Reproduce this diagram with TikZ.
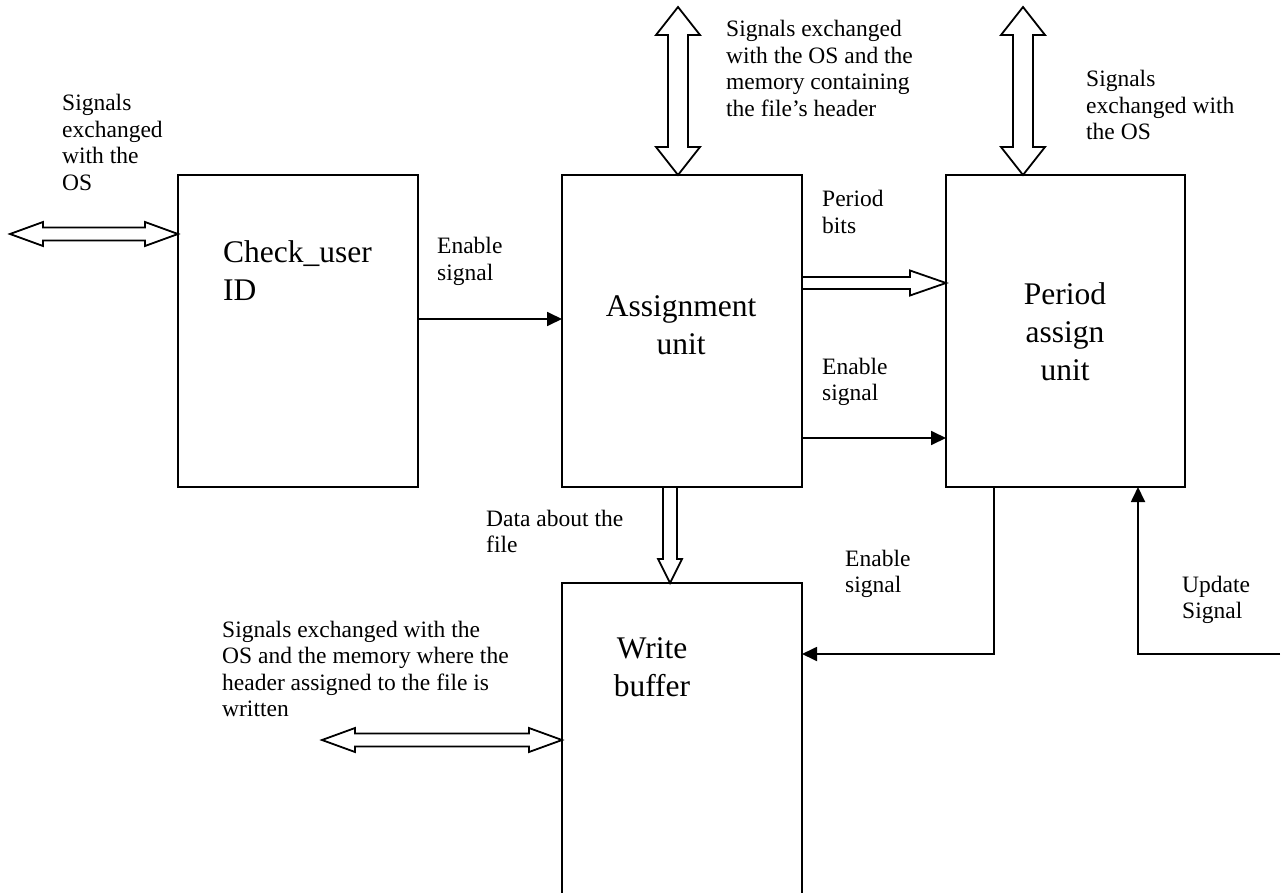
\documentclass[tikz,border=0pt]{standalone}
\usepackage{fontspec}
\setmainfont{Liberation Serif}
\usetikzlibrary{arrows.meta,calc}

% stacked lines whose baseline is the first line
\newcommand\lftlines[1]{\begin{tabular}[t]{@{}l@{}}#1\end{tabular}}
\newcommand\ctrlines[1]{\begin{tabular}[t]{@{}c@{}}#1\end{tabular}}

\begin{document}
\begin{tikzpicture}[x=1pt,y=-1pt,
  box/.style={draw, line width=1.8pt, inner sep=0pt, outer sep=0pt},
  note/.style={anchor=base west, inner sep=0pt, font=\fontsize{23.5}{26.5}\selectfont},
  title/.style={anchor=base, inner sep=0pt, font=\fontsize{31.5}{38}\selectfont},
  arr/.style={-{Triangle[length=15pt,width=14pt]}, line width=1.8pt},
  bus/.style={draw, fill=white, line width=1.8pt, line join=miter},
  % hollow block arrow, one head: shaft half width / head half width / head length
  fatone/.style args={#1/#2/#3}{
    to path={let \p1=(\tikztostart), \p2=(\tikztotarget),
      \n1={atan2(\y2-\y1,\x2-\x1)}, \n2={veclen(\x2-\x1,\y2-\y1)} in
      {[shift={(\p1)}, rotate=\n1]
        (0pt,#1pt) -- ({\n2-#3pt},#1pt) -- ({\n2-#3pt},#2pt) -- ({\n2+0pt},0pt)
        -- ({\n2-#3pt},-#2pt) -- ({\n2-#3pt},-#1pt) -- (0pt,-#1pt) -- cycle}}},
  % hollow block arrow, heads at both ends
  fattwo/.style args={#1/#2/#3}{
    to path={let \p1=(\tikztostart), \p2=(\tikztotarget),
      \n1={atan2(\y2-\y1,\x2-\x1)}, \n2={veclen(\x2-\x1,\y2-\y1)} in
      {[shift={(\p1)}, rotate=\n1]
        (0pt,0pt) -- (#3pt,#2pt) -- (#3pt,#1pt) -- ({\n2-#3pt},#1pt) -- ({\n2-#3pt},#2pt)
        -- ({\n2+0pt},0pt) -- ({\n2-#3pt},-#2pt) -- ({\n2-#3pt},-#1pt) -- (#3pt,-#1pt)
        -- (#3pt,-#2pt) -- cycle}}},
]
\useasboundingbox (0,0) rectangle (1287,893);
\clip (0,0) rectangle (1287,893);

% functional blocks
\node[box, minimum width=240pt, minimum height=312pt] (check)  at (298,331) {};
\node[box, minimum width=240pt, minimum height=312pt] (assign) at (682,331) {};
\node[box, minimum width=239pt, minimum height=312pt] (period) at (1065.5,331) {};
\node[box, minimum width=240pt, minimum height=317pt] (write)  at (682,741.5) {};

% block titles
\node[anchor=base west, inner sep=0pt, font=\fontsize{31.5}{37}\selectfont] (tcheck) at (223,263) {\lftlines{Check\_user\\ID}};
\node[title] (tassign) at (681,316) {\ctrlines{Assignment\\unit}};
\node[title] (tperiod) at (1065,304) {\ctrlines{Period\\assign\\unit}};
\node[title] (twrite)  at (652,658) {\ctrlines{Write\\buffer}};

% connection points
\coordinate (osl) at (10,234);
\coordinate (osm) at (678,7);
\coordinate (osr) at (1023,7);
\coordinate (osw) at (322,740);
\coordinate (pb)  at (802,283);
\coordinate (e1)  at (418,319);
\coordinate (e2)  at (802,438);
\coordinate (dn)  at (670,487);
\coordinate (p3)  at (994,487);
\coordinate (w3)  at (802,654);
\coordinate (u0)  at (1280,654);
\coordinate (u1)  at (1138,487);

% buses
\draw[bus] (osl) to[fattwo=6.5/12/33] (osl -| check.west);
\draw[bus] (osm) to[fattwo=10/22/28] (osm |- assign.north);
\draw[bus] (osr) to[fattwo=10/22/28] (osr |- period.north);
\draw[bus] (osw) to[fattwo=6.5/12/33] (osw -| write.west);
\draw[bus] (pb) to[fatone=6/12.5/36] (pb -| period.west);
\draw[bus] (dn) to[fatone=7/12/24] (dn |- write.north);

% control lines
\draw[arr] (e1) -- (e1 -| assign.west);
\draw[arr] (e2) -- (e2 -| period.west);
\draw[arr] (p3) |- (w3);
\draw[arr] (u0) -| (u1);

% labels
\node[note] (lbosl) at (62,111)  {\lftlines{Signals\\exchanged\\with the\\OS}};
\node[note] (lbosm) at (726,37)  {\lftlines{Signals exchanged\\with the OS and the\\memory containing\\the file’s header}};
\node[note] (lbosr) at (1086,87) {\lftlines{Signals\\exchanged with\\the OS}};
\node[note] (lbe1)  at (437,254) {\lftlines{Enable\\signal}};
\node[note] (lbpb)  at (822,207) {\lftlines{Period\\bits}};
\node[note] (lbe2)  at (822,374) {\lftlines{Enable\\signal}};
\node[note] (lbdn)  at (486,526) {\lftlines{Data about the\\file}};
\node[note] (lbe3)  at (845,566) {\lftlines{Enable\\signal}};
\node[note] (lbup)  at (1182,592) {\lftlines{Update\\Signal}};
\node[note] (lbosw) at (222,637) {\lftlines{Signals exchanged with the\\OS and the memory where the\\header assigned to the file is\\written}};
\end{tikzpicture}
\end{document}
